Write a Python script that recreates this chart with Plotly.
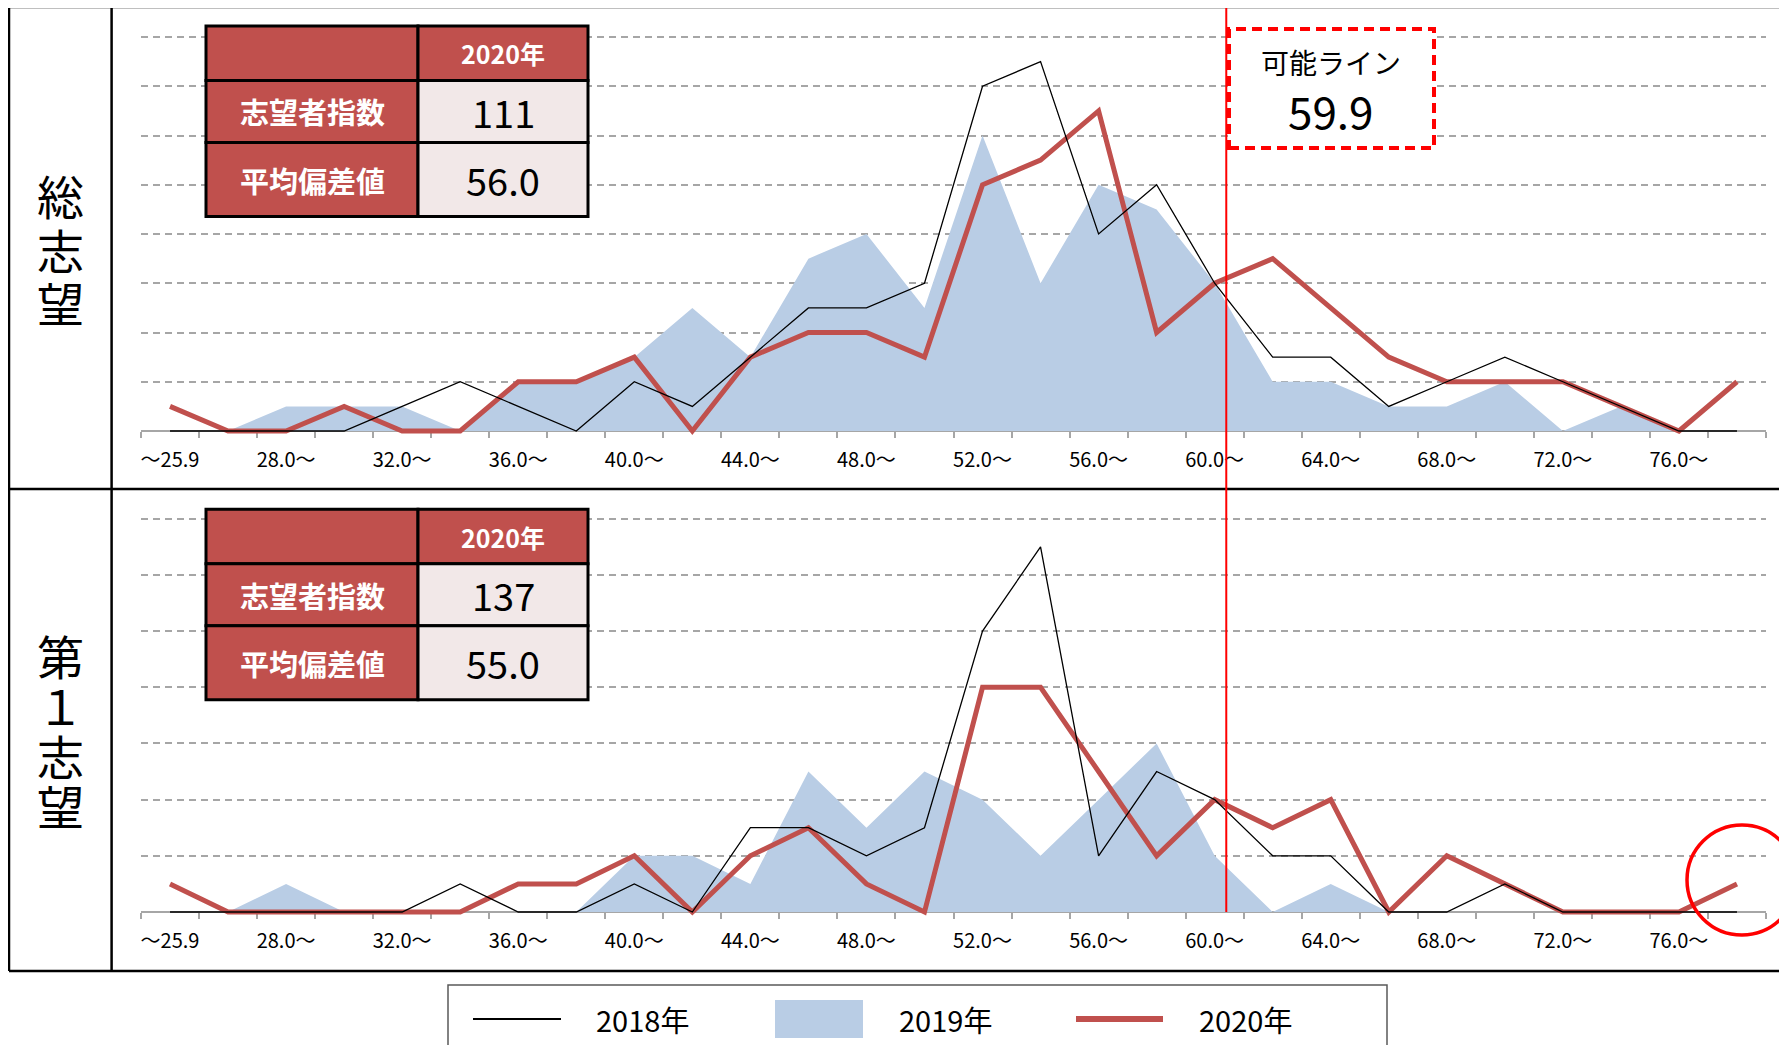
import plotly.graph_objects as go

# the page puts an 8px body margin round the plot, so the figure is drawn
# 8px smaller and every reference pixel position is shifted by that margin
W, H = 1787, 1045
OFF = 8
FW, FH = W - OFF, H - OFF

# score bands (x axis)
categories = ["～25.9", "26.0～", "28.0～", "30.0～", "32.0～", "34.0～", "36.0～",
              "38.0～", "40.0～", "42.0～", "44.0～", "46.0～", "48.0～", "50.0～",
              "52.0～", "54.0～", "56.0～", "58.0～", "60.0～", "62.0～", "64.0～",
              "66.0～", "68.0～", "70.0～", "72.0～", "74.0～", "76.0～", "78.0～"]

# 総志望
total_2018 = [0, 0, 0, 0, 1, 2, 1, 0, 2, 1, 3, 5, 5, 6, 14, 15, 8, 10, 6, 3, 3, 1, 2, 3, 2, 1, 0, 0]
total_2019 = [0, 0, 1, 1, 1, 0, 2, 2, 3, 5, 3, 7, 8, 5, 12, 6, 10, 9, 6, 2, 2, 1, 1, 2, 0, 1, 0, 0]
total_2020 = [1, 0, 0, 1, 0, 0, 2, 2, 3, 0, 3, 4, 4, 3, 10, 11, 13, 4, 6, 7, 5, 3, 2, 2, 2, 1, 0, 2]

# 第1志望
first_2018 = [0, 0, 0, 0, 0, 1, 0, 0, 1, 0, 3, 3, 2, 3, 10, 13, 2, 5, 4, 2, 2, 0, 0, 1, 0, 0, 0, 0]
first_2019 = [0, 0, 1, 0, 0, 0, 0, 0, 2, 2, 1, 5, 3, 5, 4, 2, 4, 6, 2, 0, 1, 0, 0, 0, 0, 0, 0, 0]
first_2020 = [1, 0, 0, 0, 0, 0, 1, 1, 2, 0, 2, 3, 1, 0, 8, 8, 5, 2, 4, 3, 4, 0, 2, 1, 0, 0, 0, 1]

# summary tables
table_header = "2020年"
table_rows = ["志望者指数", "平均偏差値"]
total_table = ["111", "56.0"]
first_table = ["137", "55.0"]

possible_line = 59.9
possible_pos = 18.2   # where the line sits on the band axis
years = ["2018年", "2019年", "2020年"]

RED = "#C0504D"
BLUE = "#B9CDE5"
GRID = "#A6A6A6"
FONT = "Noto Sans CJK JP"


def px(x):
    return (x - OFF) / FW


def py(y):
    return 1 - (y - OFF) / FH


idx = list(range(len(categories)))
PAD = 0.4

panels = [
    dict(title="総志望", s18=total_2018, s19=total_2019, s20=total_2020,
         table=total_table, ymax=16, base=431, top=37, ttop=26, tc=248, tstep=53.5),
    dict(title="第１志望", s18=first_2018, s19=first_2019, s20=first_2020,
         table=first_table, ymax=14, base=912, top=518.7, ttop=509.3, tc=729.5, tstep=50),
]

fig = go.Figure()
shapes = []
annotations = []

for i, p in enumerate(panels):
    n = "" if i == 0 else str(i + 1)
    xa, ya = "x" + n, "y" + n

    fig.add_trace(go.Scatter(x=idx, y=p["s19"], mode="lines", fill="tozeroy", fillcolor=BLUE,
                             line=dict(width=0, color=BLUE), name=years[1], showlegend=False,
                             xaxis=xa, yaxis=ya))
    fig.add_trace(go.Scatter(x=idx, y=p["s20"], mode="lines", line=dict(width=5, color=RED),
                             name=years[2], showlegend=False, xaxis=xa, yaxis=ya))
    fig.add_trace(go.Scatter(x=idx, y=p["s18"], mode="lines", line=dict(width=1.3, color="black"),
                             name=years[0], showlegend=False, xaxis=xa, yaxis=ya))

    unit = (p["base"] - p["top"]) / p["ymax"]
    dom = [py(p["base"] + PAD * unit), py(p["top"] - PAD * unit)]

    fig.layout["xaxis" + n] = dict(
        domain=[px(141), px(1766)], range=[-0.5, len(categories) - 0.5],
        anchor="free", position=py(p["base"]), showline=True, linecolor=GRID, linewidth=1.5,
        ticks="", tickmode="array", tickvals=idx[::2], ticktext=categories[::2],
        tickfont=dict(size=20, color="black", family=FONT), ticklabelstandoff=11,
        showgrid=False, zeroline=False, layer="below traces", fixedrange=True,
        minor=dict(tickmode="array", tickvals=[k - 0.5 for k in range(len(categories) + 1)],
                   ticks="outside", ticklen=6, tickwidth=1.5, tickcolor=GRID, showgrid=False),
    )
    fig.layout["yaxis" + n] = dict(
        domain=dom, range=[-PAD, p["ymax"] + PAD], anchor=xa,
        tickmode="array", tickvals=list(range(2, p["ymax"] + 1, 2)),
        showticklabels=False, ticks="", showline=False, zeroline=False,
        showgrid=True, gridcolor=GRID, gridwidth=1.5, griddash="7px,5px", fixedrange=True,
    )

    # summary table
    t = p["ttop"]
    rows = [t, t + 54.5, t + 116.5, t + 190.5]
    cols = [206, 418, 588]
    for r in range(3):
        for c in range(2):
            fill = "#F2E8E8" if (r > 0 and c == 1) else RED
            shapes.append(dict(type="rect", xref="paper", yref="paper",
                               x0=px(cols[c]), x1=px(cols[c + 1]), y0=py(rows[r + 1]), y1=py(rows[r]),
                               fillcolor=fill, line=dict(color="black", width=3)))
    annotations.append(dict(x=px((cols[1] + cols[2]) / 2), y=py((rows[0] + rows[1]) / 2),
                            text="<b>" + table_header + "</b>", font=dict(size=25, color="white")))
    for r in range(2):
        yc = py((rows[r + 1] + rows[r + 2]) / 2)
        annotations.append(dict(x=px((cols[0] + cols[1]) / 2), y=yc, text="<b>" + table_rows[r] + "</b>",
                                font=dict(size=29, color="white")))
        annotations.append(dict(x=px((cols[1] + cols[2]) / 2), y=yc, text=p["table"][r],
                                font=dict(size=38, color="black")))

    # vertical panel title, stacked character by character
    nc = len(p["title"])
    for k, ch in enumerate(p["title"]):
        yc = p["tc"] + (k - (nc - 1) / 2) * p["tstep"]
        annotations.append(dict(x=px(60), y=py(yc), text=ch, font=dict(size=47, color="black")))

# frame
for y in (7, 489, 971):
    shapes.append(dict(type="line", xref="paper", yref="paper", x0=px(9), x1=1, y0=py(y), y1=py(y),
                       line=dict(color="black", width=2.5)))
for x in (9, 111.6):
    shapes.append(dict(type="line", xref="paper", yref="paper", x0=px(x), x1=px(x), y0=py(7), y1=py(971),
                       line=dict(color="black", width=2.5)))

# possible line and its label
shapes.append(dict(type="line", xref="x", yref="paper", x0=possible_pos, x1=possible_pos,
                   y0=py(912), y1=py(7), line=dict(color="#FF0000", width=2)))
shapes.append(dict(type="rect", xref="paper", yref="paper", x0=px(1229), x1=px(1434), y0=py(148), y1=py(29),
                   fillcolor="white", line=dict(color="#FF0000", width=4, dash="10px,6px")))
annotations.append(dict(x=px(1331), y=py(62), text="可能ライン", font=dict(size=28, color="black")))
annotations.append(dict(x=px(1331), y=py(110), text=f"{possible_line:.1f}", font=dict(size=44, color="black")))

# highlight circle on the last band
shapes.append(dict(type="circle", xref="paper", yref="paper", x0=px(1687), x1=px(1797), y0=py(935), y1=py(825),
                   line=dict(color="#FF0000", width=3.5)))

# legend drawn by hand
shapes.append(dict(type="rect", xref="paper", yref="paper", x0=px(448), x1=px(1387), y0=py(1060), y1=py(985),
                   line=dict(color="#595959", width=1.5), fillcolor="rgba(0,0,0,0)"))
shapes.append(dict(type="line", xref="paper", yref="paper", x0=px(473), x1=px(561), y0=py(1019), y1=py(1019),
                   line=dict(color="black", width=2)))
shapes.append(dict(type="rect", xref="paper", yref="paper", x0=px(775), x1=px(863), y0=py(1038), y1=py(1000),
                   fillcolor=BLUE, line=dict(width=0)))
shapes.append(dict(type="line", xref="paper", yref="paper", x0=px(1076), x1=px(1163), y0=py(1019), y1=py(1019),
                   line=dict(color=RED, width=6)))
for xc, label in zip((642, 945, 1245), years):
    annotations.append(dict(x=px(xc), y=py(1019), text=label, font=dict(size=29, color="black")))

for a in annotations:
    a.update(xref="paper", yref="paper", showarrow=False, xanchor="center", yanchor="middle")
    a["font"]["family"] = FONT

fig.update_layout(
    width=FW, height=FH, margin=dict(l=0, r=0, t=0, b=0),
    paper_bgcolor="white", plot_bgcolor="rgba(0,0,0,0)",
    font=dict(family=FONT, color="black"),
    shapes=shapes, annotations=annotations, showlegend=False,
)

fig.write_html("out.html")
